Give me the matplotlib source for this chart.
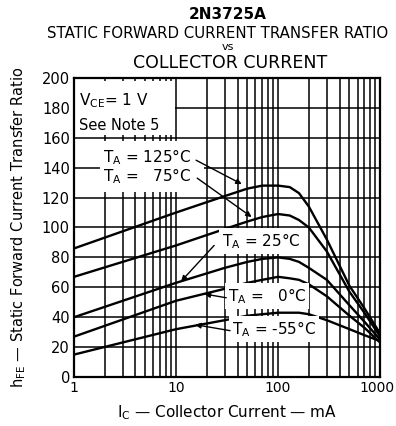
import matplotlib
matplotlib.use("Agg")
import matplotlib.pyplot as plt
import matplotlib.transforms as mtransforms
from matplotlib.patches import Rectangle
from matplotlib.ticker import LogLocator, NullFormatter, FixedLocator

plt.rcParams['font.family'] = 'DejaVu Sans'
plt.rcParams['mathtext.fontset'] = 'dejavusans'

# collector current, mA
ic = [1, 10, 30, 50, 70, 100, 130, 160, 200, 300, 500, 700, 1000]
# hFE
h125 = [86, 110, 121, 126, 128, 128, 127, 123, 114, 92, 61, 46, 29]
h75 = [67, 88, 99, 104, 107, 109, 108, 105, 100, 84, 57, 43, 27]
h25 = [40, 63, 73, 77, 79, 80, 79, 77, 73, 65, 48, 37, 25]
h0 = [27, 51, 59, 63, 65, 67, 66, 65, 62, 54, 41, 33, 23]
hm55 = [15, 32, 38, 41, 42, 43, 43, 43, 42, 38, 32, 28, 24]

fig = plt.figure(figsize=(3.96, 4.26), dpi=100)
ax = fig.add_axes([0.187, 0.115, 0.773, 0.702])

for h in [h125, h75, h25, h0, hm55]:
    ax.plot(ic, h, color='black', lw=1.7, zorder=3, solid_capstyle='round')

ax.set_xscale('log')
ax.set_xlim(1, 1000)
ax.set_ylim(0, 200)
ax.xaxis.set_major_locator(FixedLocator([1, 10, 100, 1000]))
ax.xaxis.set_minor_locator(LogLocator(base=10, subs=range(2, 10)))
ax.xaxis.set_minor_formatter(NullFormatter())
ax.set_xticklabels(['1', '10', '100', '1000'])
ax.set_yticks(range(0, 201, 20))
ax.grid(True, which='both', color='black', lw=1.1)
ax.tick_params(which='both', length=0, labelsize=10.5, pad=3)
ax.tick_params(axis='x', labelsize=10)
# nudge "1000" so it stays inside the canvas
last = ax.get_xticklabels()[-1]
last.set_transform(last.get_transform() + mtransforms.ScaledTranslation(-3 / 100, 0, fig.dpi_scale_trans))
for s in ax.spines.values():
    s.set_linewidth(1.6)

# white blanking boxes behind the notes
ax.add_patch(Rectangle((1, 162), 8.8, 36, fc='white', ec='none', zorder=2))
ax.add_patch(Rectangle((1.8, 123.5), 17, 34.5, fc='white', ec='none', zorder=2))
ax.text(1.12, 185, r'$\mathregular{V_{CE}}$= 1 V', fontsize=11, va='center', ha='left', zorder=4)
ax.text(1.12, 168, 'See Note 5', fontsize=10.5, va='center', ha='left', zorder=4)

box = dict(boxstyle='square,pad=0.2', fc='white', ec='none')
arrow = dict(arrowstyle='-|>', color='black', lw=1.0, mutation_scale=8,
             shrinkA=0, shrinkB=0)

ax.text(1.92, 147, r'$\mathregular{T_A}$ = 125°C', fontsize=11, va='center', ha='left', zorder=4)
ax.text(1.92, 134, r'$\mathregular{T_A}$ =   75°C', fontsize=11, va='center', ha='left', zorder=4)
ax.annotate('', xy=(44, 129), xytext=(15.7, 145), arrowprops=arrow, zorder=4)
ax.annotate('', xy=(55, 107), xytext=(16.1, 133), arrowprops=arrow, zorder=4)

ax.text(28, 91, r'$\mathregular{T_A}$ = 25°C', fontsize=11, va='center', ha='left', zorder=4, bbox=box)
ax.annotate('', xy=(11.2, 64), xytext=(23.6, 88), arrowprops=arrow, zorder=4)

ax.text(32, 54, r'$\mathregular{T_A}$ =   0°C', fontsize=11, va='center', ha='left', zorder=4, bbox=box)
ax.annotate('', xy=(19, 55.5), xytext=(31, 53), arrowprops=arrow, zorder=4)

ax.text(35, 32, r'$\mathregular{T_A}$ = -55°C', fontsize=11, va='center', ha='left', zorder=4, bbox=box)
ax.annotate('', xy=(15.4, 35), xytext=(33.8, 31), arrowprops=arrow, zorder=4)

ax.set_xlabel(r'$\mathregular{I_C}$ — Collector Current — mA', fontsize=11, labelpad=6)
ax.set_ylabel(r'$\mathregular{h_{FE}}$ — Static Forward Current Transfer Ratio',
              fontsize=10.5, labelpad=10)

fig.text(0.575, 0.967, '2N3725A', ha='center', va='center', fontsize=11, fontweight='bold')
fig.text(0.55, 0.922, 'STATIC FORWARD CURRENT TRANSFER RATIO', ha='center', va='center', fontsize=10.8)
fig.text(0.575, 0.889, 'vs', ha='center', va='center', fontsize=8)
fig.text(0.58, 0.852, 'COLLECTOR CURRENT', ha='center', va='center', fontsize=12.5)

fig.savefig('out.png', dpi=100)
